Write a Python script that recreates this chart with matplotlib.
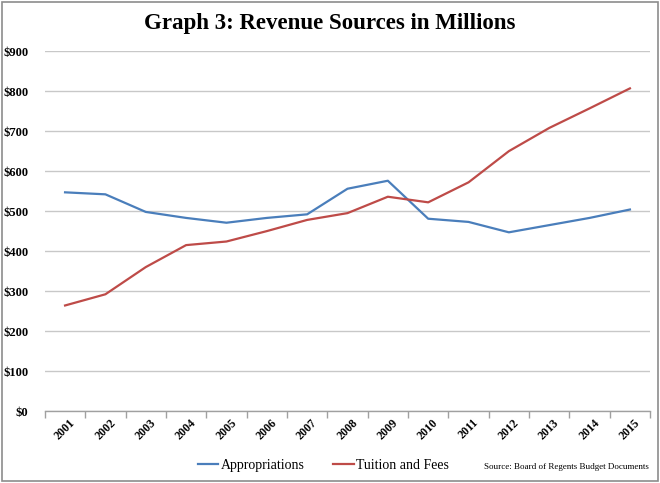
import numpy as np
import matplotlib.pyplot as plt
from matplotlib.patches import Rectangle

# Graph 3 data (millions of dollars)
years = ["2001", "2002", "2003", "2004", "2005", "2006", "2007", "2008",
         "2009", "2010", "2011", "2012", "2013", "2014", "2015"]
appropriations = [547, 542, 498, 483, 471, 483, 492, 556, 576, 481, 473, 447, 465, 483, 504]
tuition_fees = [264, 292, 360, 415, 424, 450, 478, 495, 536, 522, 572, 650, 708, 757, 807]
y_ticks = [0, 100, 200, 300, 400, 500, 600, 700, 800, 900]

serif = ["Liberation Serif", "DejaVu Serif"]

fig = plt.figure(figsize=(6.6, 4.83), dpi=100)
ax = fig.add_axes([0.068, 0.149, 0.917, 0.745])

# outer frame
fig.patches.append(Rectangle((0.003, 0.004), 0.994, 0.992, transform=fig.transFigure,
                             fill=False, edgecolor="#8c8c8c", linewidth=1.2))

x = np.arange(len(years))
ax.plot(x, appropriations, color="#4a7ebb", linewidth=1.6, label="Appropriations")
ax.plot(x, tuition_fees, color="#be4b48", linewidth=1.6, label="Tuition and Fees")

ax.set_xlim(-0.5, len(years) - 0.5)
ax.set_ylim(0, 900)
ax.set_yticks(y_ticks)
ax.set_yticklabels(["$%d" % v for v in y_ticks], fontfamily=serif, fontweight="bold", fontsize=9)
ax.yaxis.grid(True, color="#c8c8c8", linewidth=1)
ax.set_axisbelow(True)

ax.set_xticks(x)
ax.set_xticklabels(years, rotation=45, fontfamily=serif, fontweight="bold", fontsize=8.5,
                   ha="center", va="top")
ax.tick_params(axis="x", length=0, pad=4)
ax.set_xticks(np.arange(-0.5, len(years)), minor=True)
ax.tick_params(axis="x", which="minor", length=5, color="#a0a0a0", width=1)
ax.tick_params(axis="y", length=0, pad=12)

for s in ["top", "right", "left"]:
    ax.spines[s].set_visible(False)
ax.spines["bottom"].set_color("#a0a0a0")
ax.spines["bottom"].set_linewidth(1)

fig.text(0.5, 0.952, "Graph 3: Revenue Sources in Millions", ha="center", va="center",
         fontfamily=serif, fontweight="bold", fontsize=16.5)

leg = fig.legend(loc="center", bbox_to_anchor=(0.49, 0.036), ncol=2, frameon=False,
                 prop={"family": serif, "size": 10}, handlelength=1.5, handletextpad=0.2,
                 columnspacing=2.0)
fig.text(0.983, 0.034, "Source: Board of Regents Budget Documents", ha="right", va="center",
         fontfamily=serif, fontsize=6.5)

fig.savefig("out.png", dpi=100)
